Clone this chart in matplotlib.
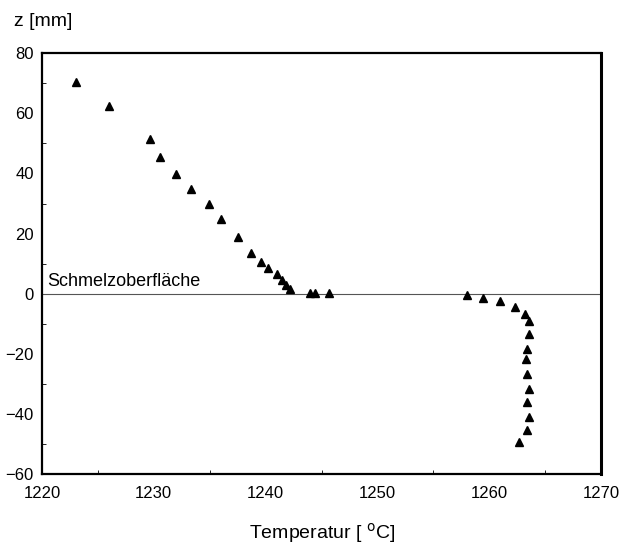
import matplotlib
matplotlib.use("Agg")
import matplotlib.pyplot as plt
from matplotlib.ticker import MultipleLocator

plt.rcParams['font.family'] = ['Liberation Sans', 'DejaVu Sans']

# Data
temp_above = [1223.0, 1226.0, 1229.7, 1230.6, 1232.0, 1233.3, 1234.9, 1236.0,
              1237.5, 1238.7, 1239.6, 1240.2, 1241.0, 1241.5, 1241.8, 1242.2,
              1244.0, 1244.4, 1245.7]
z_above = [70.6, 62.6, 51.6, 45.5, 39.7, 34.7, 29.7, 24.7,
           18.7, 13.5, 10.6, 8.4, 6.5, 4.7, 3.0, 1.6,
           0.3, 0.3, 0.2]
temp_below = [1258.0, 1259.4, 1261.0, 1262.3, 1263.2, 1263.6, 1263.6, 1263.4,
              1263.3, 1263.4, 1263.6, 1263.4, 1263.6, 1263.4, 1262.7]
z_below = [-0.3, -1.4, -2.3, -4.4, -6.6, -9.2, -13.3, -18.3,
           -21.7, -26.6, -31.6, -36.0, -41.0, -45.5, -49.3]

x_ticks = [1220, 1230, 1240, 1250, 1260, 1270]
y_ticks = [80, 60, 40, 20, 0, -20, -40, -60]
surface_label = "Schmelzoberfläche"

fig = plt.figure(figsize=(6.2, 5.46), dpi=100)
ax = fig.add_axes([0.0677, 0.1319, 0.9017, 0.7705])

ax.axhline(0, color='#555555', linewidth=0.8, zorder=1)
ax.plot(temp_above + temp_below, z_above + z_below, linestyle='none',
        marker='^', markersize=6, color='black', zorder=3)

ax.set_xlim(1220, 1270)
ax.set_ylim(-60, 80)
ax.set_xticks(x_ticks)
ax.set_yticks(y_ticks)
ax.xaxis.set_minor_locator(MultipleLocator(5))
ax.yaxis.set_minor_locator(MultipleLocator(10))
ax.tick_params(which='both', direction='in', length=3, width=0.6,
               labelsize=12)
ax.tick_params(axis='x', which='major', length=0, pad=9)
ax.tick_params(axis='y', which='major', length=0, pad=6)

for side in ['left', 'right', 'top', 'bottom']:
    ax.spines[side].set_linewidth(1.6)
ax.spines['right'].set_linewidth(2.2)

ax.text(1220.45, 1.2, surface_label, fontsize=13, ha='left', va='bottom')

fig.text(14 / 620, 1 - 21 / 546, "z [mm]", fontsize=14, ha='left', va='center')
fig.text(322 / 620, 1 - 533 / 546, r"Temperatur [ $^{\mathrm{o}}$C]", fontsize=14,
         ha='center', va='center')

fig.savefig("out.png", dpi=100)
